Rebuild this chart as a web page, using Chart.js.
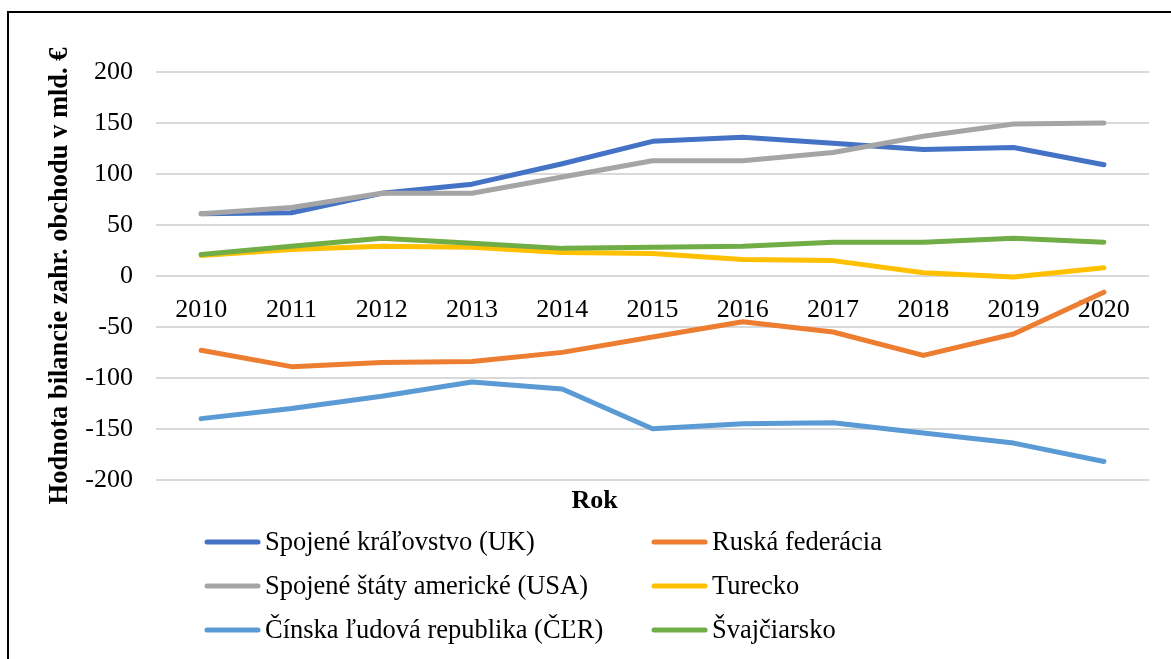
<!DOCTYPE html>
<html>
<head>
<meta charset="utf-8">
<script src="https://cdn.jsdelivr.net/npm/chart.js@4"></script>
<style>
  html, body { margin: 0; padding: 0; background: #fff; overflow: hidden; }
  #wrap { position: relative; width: 1171px; height: 659px; overflow: hidden; }
  #frame { position: absolute; left: 7px; top: 11px; width: 1200px; height: 700px; border: 2px solid #000; }
  canvas { position: absolute; left: 0; top: 0; }
</style>
</head>
<body>
<div id="wrap">
  <div id="frame"></div>
  <canvas id="chart" width="1171" height="659"></canvas>
</div>
<script>
const years = ['2010', '2011', '2012', '2013', '2014', '2015', '2016', '2017', '2018', '2019', '2020']

const uk = [61, 62, 81, 90, 110, 132, 136, 130, 124, 126, 109]
const russia = [-73, -89, -85, -84, -75, -60, -45, -55, -78, -57, -16]
const usa = [61, 67, 81, 81, 97, 113, 113, 121, 137, 149, 150]
const turkey = [20, 26, 29, 28, 23, 22, 16, 15, 3, -1, 8]
const china = [-140, -130, -118, -104, -111, -150, -145, -144, -154, -164, -182]
const swiss = [21, 29, 37, 32, 27, 28, 29, 33, 33, 37, 33]

const seriesNames = [
  'Spojené kráľovstvo (UK)', 'Ruská federácia',
  'Spojené štáty americké (USA)', 'Turecko',
  'Čínska ľudová republika (ČĽR)', 'Švajčiarsko'
]
const seriesData = [uk, russia, usa, turkey, china, swiss]
const seriesColors = ['#4472C4', '#ED7D31', '#A5A5A5', '#FFC000', '#5B9BD5', '#70AD47']

const FONT = '"Liberation Serif", "Times New Roman", serif'

// excel style legend: two fixed columns, three rows
const gridLegend = {
  id: 'gridLegend',
  afterDraw(chart) {
    const ctx = chart.ctx
    const colX = [205, 652]
    const rowY = [542, 586, 630]
    ctx.save()
    ctx.font = '26.5px ' + FONT
    ctx.textBaseline = 'middle'
    ctx.fillStyle = '#000'
    chart.data.datasets.forEach((ds, i) => {
      const x = colX[i % 2]
      const y = rowY[Math.floor(i / 2)]
      ctx.strokeStyle = ds.borderColor
      ctx.lineWidth = 5
      ctx.lineCap = 'round'
      ctx.beginPath()
      ctx.moveTo(x + 2, y)
      ctx.lineTo(x + 53, y)
      ctx.stroke()
      ctx.fillText(ds.label, x + 60, y + 1)
    })
    ctx.restore()
  }
}

const datasets = seriesNames.map((name, i) => ({
  label: name,
  data: seriesData[i],
  borderColor: seriesColors[i],
  backgroundColor: seriesColors[i],
  borderWidth: 5,
  borderCapStyle: 'round',
  borderJoinStyle: 'round',
  pointRadius: 0,
  tension: 0,
  order: seriesNames.length - i
}))

const ctx = document.getElementById('chart').getContext('2d')

new Chart(ctx, {
  type: 'line',
  data: {labels: years, datasets: datasets},
  options: {
    responsive: false,
    animation: false,
    layout: {
      padding: {left: 40, top: 72, right: 22, bottom: 142}
    },
    plugins: {
      legend: {display: false},
      tooltip: {enabled: false},
      title: {
        display: true,
        text: 'Rok',
        position: 'bottom',
        color: '#000',
        font: {family: FONT, size: 26, weight: 'bold'},
        padding: {top: 6, bottom: 0}
      }
    },
    scales: {
      x: {
        position: {y: 0},
        offset: true,
        grid: {display: false, drawTicks: false},
        border: {display: false},
        ticks: {color: '#000', font: {family: FONT, size: 26}, padding: 19, maxRotation: 0, autoSkip: false}
      },
      y: {
        min: -200,
        max: 200,
        afterFit: (scale) => { scale.width = 116 },
        grid: {color: '#d9d9d9', lineWidth: 2, drawTicks: false},
        border: {display: false},
        ticks: {stepSize: 50, color: '#000', font: {family: FONT, size: 26}, padding: 23},
        title: {
          display: true,
          text: 'Hodnota bilancie zahr. obchodu v mld. €',
          color: '#000',
          font: {family: FONT, size: 26.5, weight: 'bold'},
          padding: {top: 4, bottom: 0}
        }
      }
    }
  },
  plugins: [gridLegend]
})
</script>
</body>
</html>
